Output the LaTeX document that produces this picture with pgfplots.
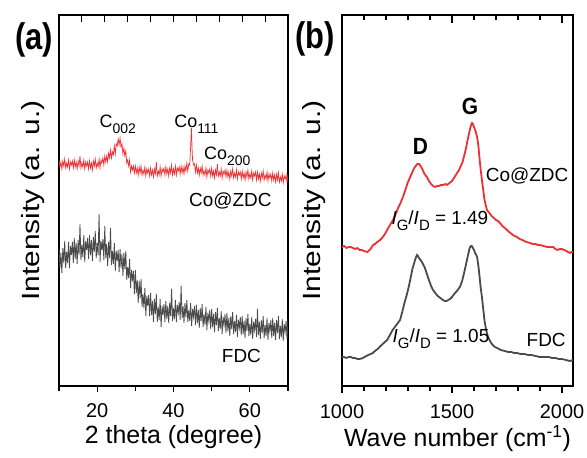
\documentclass[border=0pt]{standalone}
\usepackage{pgfplots}
\pgfplotsset{compat=1.18}
\usepackage{fontspec}
\setmainfont{Liberation Sans}
\usepackage{graphicx}
\definecolor{myred}{RGB}{236,48,52}
\definecolor{mygray}{RGB}{75,75,75}
\newcommand\fs[1]{\fontsize{#1}{#1}\selectfont}
\newcommand\sub[1]{\raisebox{-0.28em}{\fontsize{14}{14}\selectfont #1}}
\newcommand\subs[1]{\raisebox{-0.3em}{\fontsize{15}{15}\selectfont #1}}
\begin{document}
\begin{tikzpicture}
\useasboundingbox (0,0) rectangle (587bp,458bp);
\pgfplotsset{
  base/.style={scale only axis, height=371bp, ymin=0, ymax=371, ytick=\empty,
    anchor=south west,
    axis line style={line width=1.3bp},
    every tick/.style={black, line width=1.1bp},
    /pgf/number format/assume math mode=true,
    /pgf/number format/1000 sep={},
    xticklabel style={font=\fs{20}, anchor=center, yshift=-19bp},
  },
  topt/.style={scale only axis, height=371bp, ymin=0, ymax=371, ytick=\empty,
    anchor=south west, axis line style={draw=none},
    xtick pos=right, tick align=inside, xticklabels={},
    every tick/.style={black, line width=1.1bp}},
}
% ---------- panel (a) ----------
\begin{axis}[base, at={(59bp,72bp)}, width=229bp, xmin=10, xmax=70,
  xtick={20,40,60}, minor xtick={10,30,50,70},
  xtick pos=left, tick align=outside,
  major tick length=6bp, minor tick length=5bp,
  xlabel={2 theta (degree)},
  xlabel style={font=\fs{25}, at={(axis description cs:0.5,-0.137)}, anchor=center},
  ylabel={\scalebox{1.2}[1]{Intensity (a. u.)}},
  ylabel style={font=\fs{25}, at={(axis description cs:-0.1135,0.5)}, anchor=center},
]
\addplot[myred, line width=0.7bp] coordinates {
(10,226)(10.25,219)(10.5,224)(10.75,217)(11,225)(11.25,220)(11.5,227)(11.75,218)(12,223)(12.25,219)(12.5,226)(12.75,217)(13,224)(13.25,221)(13.5,225)(13.75,218)
(14,226)(14.25,219)(14.5,224)(14.75,217)(15,225)(15.25,220)(15.5,230)(15.75,218)(16,223)(16.25,219)(16.5,226)(16.75,217)(17,224)(17.25,220)(17.5,224)(17.75,217)
(18,225)(18.25,218)(18.5,223)(18.75,216)(19,225)(19.25,220)(19.5,227)(19.75,218)(20,223)(20.25,219)(20.5,227)(20.75,218)(21,226)(21.25,223)(21.5,228)(21.75,221)
(22,230)(22.25,224)(22.5,230)(22.75,224)(23,233)(23.25,228)(23.5,236)(23.75,228)(24,234)(24.25,231)(24.5,240)(24.75,232)(25,242)(25.25,240)(25.5,247)(25.75,241)
(26,248)(26.25,239)(26.5,242)(26.75,232)(27,238)(27.25,230)(27.5,235)(27.75,223)(28,226)(28.25,220)(28.5,226)(28.75,214)(29,220)(29.25,216)(29.5,220)(29.75,213)
(30,220)(30.25,213)(30.5,218)(30.75,211)(31,219)(31.25,213)(31.5,220)(31.75,211)(32,216)(32.25,212)(32.5,219)(32.75,210)(33,217)(33.25,213)(33.5,217)(33.75,210)
(34,218)(34.25,211)(34.5,216)(34.75,209)(35,217)(35.25,212)(35.5,224)(35.75,210)(36,215)(36.25,211)(36.5,219)(36.75,210)(37,217)(37.25,214)(37.5,218)(37.75,211)
(38,219)(38.25,212)(38.5,217)(38.75,210)(39,218)(39.25,213)(39.5,221)(39.75,211)(40,217)(40.25,212)(40.5,220)(40.75,211)(41,218)(41.25,215)(41.5,219)(41.75,212)
(42,220)(42.25,213)(42.5,219)(42.75,212)(43,220)(43.25,215)(43.5,223)(43.75,215)(44,222)(44.25,221)(44.4,232)(44.5,240)(44.6,250)(44.7,258)(44.8,246)(44.9,234)(45,226)(45.25,221)(45.5,222)(45.75,214)
(46,221)(46.25,213)(46.5,218)(46.75,211)(47,218)(47.25,213)(47.5,220)(47.75,211)(48,215)(48.25,211)(48.5,218)(48.75,209)(49,216)(49.25,213)(49.5,217)(49.75,210)
(50,218)(50.25,210)(50.5,215)(50.75,208)(51,216)(51.25,211)(51.5,222)(51.75,210)(52,214)(52.25,210)(52.5,217)(52.75,208)(53,215)(53.25,212)(53.5,216)(53.75,209)
(54,216)(54.25,209)(54.5,214)(54.75,207)(55,215)(55.25,210)(55.5,217)(55.75,208)(56,213)(56.25,209)(56.5,216)(56.75,207)(57,214)(57.25,211)(57.5,214)(57.75,207)
(58,215)(58.25,208)(58.5,213)(58.75,206)(59,214)(59.25,209)(59.5,216)(59.75,207)(60,212)(60.25,208)(60.5,215)(60.75,206)(61,213)(61.25,210)(61.5,214)(61.75,206)
(62,214)(62.25,207)(62.5,212)(62.75,205)(63,213)(63.25,208)(63.5,215)(63.75,206)(64,211)(64.25,207)(64.5,214)(64.75,205)(65,212)(65.25,208)(65.5,212)(65.75,205)
(66,213)(66.25,206)(66.5,211)(66.75,204)(67,212)(67.25,206)(67.5,213)(67.75,204)(68,209)(68.25,205)(68.5,212)(68.75,203)(69,210)(69.25,207)(69.5,211)(69.75,204)(70,212)
};
\addplot[mygray, line width=0.8bp] coordinates {
(10,138)(10.25,118)(10.5,133)(10.75,113)(11,138)(11.25,123)(11.5,145)(11.75,118)(12,134)(12.25,123)(12.5,144)(12.75,118)(13,140)(13.25,131)(13.5,144)(13.75,123)
(14,148)(14.25,127)(14.5,143)(14.75,122)(15,146)(15.25,131)(15.5,162)(15.75,126)(16,141)(16.25,129)(16.5,151)(16.75,124)(17,145)(17.25,136)(17.5,148)(17.75,127)
(18,151)(18.25,131)(18.5,146)(18.75,125)(19,149)(19.25,134)(19.5,155)(19.75,128)(20,143)(20.25,131)(20.5,172)(20.75,124)(21,145)(21.25,136)(21.5,147)(21.75,126)
(22,160)(22.25,128)(22.5,142)(22.75,120)(23,144)(23.25,128)(23.5,158)(23.75,121)(24,135)(24.25,122)(24.5,143)(24.75,115)(25,135)(25.25,125)(25.5,136)(25.75,114)
(26,137)(26.25,118)(26.5,132)(26.75,110)(27,133)(27.25,117)(27.5,135)(27.75,106)(28,119)(28.25,108)(28.5,127)(28.75,98)(29,116)(29.25,105)(29.5,115)(29.75,92)
(30,116)(30.25,93)(30.5,106)(30.75,83)(31,105)(31.25,88)(31.5,107)(31.75,79)(32,92)(32.25,78)(32.5,98)(32.75,70)(33,90)(33.25,80)(33.5,91)(33.75,70)
(34,93)(34.25,71)(34.5,85)(34.75,64)(35,87)(35.25,72)(35.5,92)(35.75,64)(36,79)(36.25,66)(36.5,87)(36.75,59)(37,80)(37.25,71)(37.5,82)(37.75,64)
(38,85)(38.25,67)(38.5,80)(38.75,63)(39,83)(39.25,70)(39.5,97)(39.75,65)(40,78)(40.25,67)(40.5,86)(40.75,64)(41,81)(41.25,73)(41.5,84)(41.75,66)
(42,100)(42.25,68)(42.5,80)(42.75,63)(43,83)(43.25,69)(43.5,86)(43.75,64)(44,76)(44.25,65)(44.5,83)(44.75,60)(45,77)(45.25,69)(45.5,80)(45.75,61)
(46,81)(46.25,63)(46.5,76)(46.75,58)(47,78)(47.25,65)(47.5,82)(47.75,59)(48,72)(48.25,61)(48.5,79)(48.75,56)(49,73)(49.25,65)(49.5,76)(49.75,57)
(50,77)(50.25,59)(50.5,72)(50.75,54)(51,74)(51.25,61)(51.5,78)(51.75,55)(52,68)(52.25,57)(52.5,75)(52.75,52)(53,69)(53.25,61)(53.5,72)(53.75,53)
(54,73)(54.25,55)(54.5,68)(54.75,50)(55,70)(55.25,57)(55.5,74)(55.75,52)(56,65)(56.25,54)(56.5,71)(56.75,49)(57,66)(57.25,58)(57.5,69)(57.75,51)
(58,70)(58.25,52)(58.5,65)(58.75,48)(59,68)(59.25,55)(59.5,72)(59.75,50)(60,62)(60.25,51)(60.5,69)(60.75,47)(61,64)(61.25,56)(61.5,67)(61.75,49)
(62,77)(62.25,51)(62.5,64)(62.75,47)(63,66)(63.25,53)(63.5,70)(63.75,48)(64,61)(64.25,50)(64.5,68)(64.75,46)(65,63)(65.25,55)(65.5,66)(65.75,48)
(66,68)(66.25,50)(66.5,63)(66.75,46)(67,66)(67.25,53)(67.5,70)(67.75,47)(68,60)(68.25,49)(68.5,67)(68.75,45)(69,62)(69.25,54)(69.5,65)(69.75,47)(70,67)
};
\node[anchor=base, font=\fs{18}] at (axis cs:25.4,258) {C\sub{002}};
\node[anchor=base, font=\fs{18}] at (axis cs:46.0,258) {Co\sub{111}};
\node[anchor=base, font=\fs{18}] at (axis cs:54.1,226) {Co\sub{200}};
\node[anchor=base, font=\fs{19}] at (axis cs:54.9,179) {Co@ZDC};
\node[anchor=base, font=\fs{19}] at (axis cs:57.8,24) {FDC};
\end{axis}
\begin{axis}[topt, at={(59bp,72bp)}, width=229bp, xmin=10, xmax=70,
  xtick={16,22,...,64}, major tick length=7bp]
\addplot[draw=none] coordinates {(20,100)};
\end{axis}
% ---------- panel (b) ----------
\begin{axis}[base, at={(342bp,72bp)}, width=231bp, xmin=1000, xmax=2050,
  xtick={1000,1500,2000}, minor xtick={1100,1200,1300,1400,1600,1700,1800,1900},
  xtick pos=left, tick align=outside,
  major tick length=7bp, minor tick length=5bp,
  xlabel={Wave number (cm\textsuperscript{-1})},
  xlabel style={font=\fs{25}, at={(axis description cs:0.5,-0.143)}, anchor=center},
  ylabel={\scalebox{1.2}[1]{Intensity (a. u.)}},
  ylabel style={font=\fs{25}, at={(axis description cs:-0.121,0.5)}, anchor=center},
]
\addplot[myred, line width=1.8bp] coordinates {
(1000,139)(1010,140)(1020,138)(1030,139)(1040,139)(1050,138)(1060,137)(1070,138)(1080,136)(1090,136)(1100,135)(1115,134)(1130,137)(1141,141)(1150,142)(1160,144)(1173,146)(1186,149)(1198,153)(1210,158)(1221,162)(1232,166)(1244,172)(1255,178)(1266,183)(1277,189)(1288,196)(1298,203)(1308,208)(1318,213)(1328,218)(1335,220)(1343,222)(1350,222)(1357,220)(1365,217)(1375,212)(1386,209)(1395,205)(1405,202)(1414,200)(1423,199)(1432,200)(1440,200)(1450,201)(1460,201)(1470,202)(1477,201)(1488,203)(1500,205)(1512,209)(1523,213)(1532,216)(1540,220)(1548,224)(1555,230)(1563,237)(1570,245)(1577,252)(1583,258)(1587,261)(1591,263)(1595,262)(1600,259)(1607,255)(1614,249)(1620,240)(1625,228)(1630,217)(1636,206)(1642,196)(1647,187)(1653,181)(1659,176)(1670,173)(1680,170)(1690,168)(1700,166)(1709,165)(1718,163)(1729,160)(1740,158)(1750,156)(1760,154)(1777,151)(1795,149)(1808,147)(1820,146)(1838,144)(1855,143)(1868,142)(1880,142)(1890,141)(1900,141)(1916,140)(1932,139)(1946,139)(1960,139)(1970,137)(1980,136)(1990,137)(2000,137)(2010,136)(2020,135)(2028,134)(2036,133)(2043,134)(2050,134)
};
\addplot[mygray, line width=1.8bp] coordinates {
(1000,29)(1010,29)(1020,28)(1030,29)(1040,29)(1050,28)(1060,28)(1070,27)(1080,27)(1095,28)(1110,30)(1120,31)(1130,32)(1140,33)(1150,35)(1162,37)(1175,40)(1190,43)(1205,46)(1218,51)(1230,56)(1247,61)(1264,66)(1275,75)(1285,84)(1293,90)(1300,96)(1310,106)(1320,117)(1328,123)(1335,128)(1341,131)(1345,130)(1350,128)(1357,126)(1363,124)(1370,121)(1377,118)(1386,112)(1395,106)(1405,100)(1414,96)(1424,93)(1435,90)(1447,88)(1459,86)(1467,85)(1475,85)(1483,86)(1491,87)(1500,89)(1510,92)(1522,95)(1536,99)(1546,105)(1555,113)(1562,120)(1568,126)(1574,132)(1578,136)(1582,139)(1586,140)(1590,140)(1595,138)(1600,136)(1605,133)(1610,131)(1614,129)(1620,120)(1625,110)(1630,99)(1636,89)(1642,77)(1648,65)(1655,56)(1664,49)(1675,44)(1685,41)(1695,39)(1705,38)(1722,36)(1740,35)(1755,34)(1770,34)(1782,33)(1795,33)(1812,32)(1830,32)(1845,31)(1860,31)(1880,30)(1900,29)(1920,29)(1940,29)(1955,28)(1970,28)(1985,27)(2000,27)(2018,26)(2036,25)(2050,26)
};
\node[anchor=base, font=\bfseries\fs{21}] at (axis cs:1357,231) {\scalebox{1}[1.12]{D}};
\node[anchor=base, font=\bfseries\fs{21}] at (axis cs:1582,271) {\scalebox{1}[1.12]{G}};
\node[anchor=base, font=\fs{19}] at (axis cs:1841,204) {Co@ZDC};
\node[anchor=base, font=\fs{19}] at (axis cs:1445,161) {\textit{I}\subs{G}/\textit{I}\subs{D} = 1.49};
\node[anchor=base, font=\fs{19}] at (axis cs:1450,43) {\textit{I}\subs{G}/\textit{I}\subs{D} = 1.05};
\node[anchor=base, font=\fs{19}] at (axis cs:1928,39) {FDC};
\end{axis}
\begin{axis}[topt, at={(342bp,72bp)}, width=231bp, xmin=1000, xmax=2050,
  xtick={1000,1500,2000}, minor xtick={1100,1200,1300,1400,1600,1700,1800,1900},
  major tick length=8bp, minor tick length=5bp]
\addplot[draw=none] coordinates {(1500,100)};
\end{axis}
% panel labels
\node[font=\bfseries\fs{31}] at (34bp,418bp) {\scalebox{1}[1.2]{(a)}};
\node[font=\bfseries\fs{31}] at (315bp,419bp) {\scalebox{1}[1.2]{(b)}};
\end{tikzpicture}
\end{document}
